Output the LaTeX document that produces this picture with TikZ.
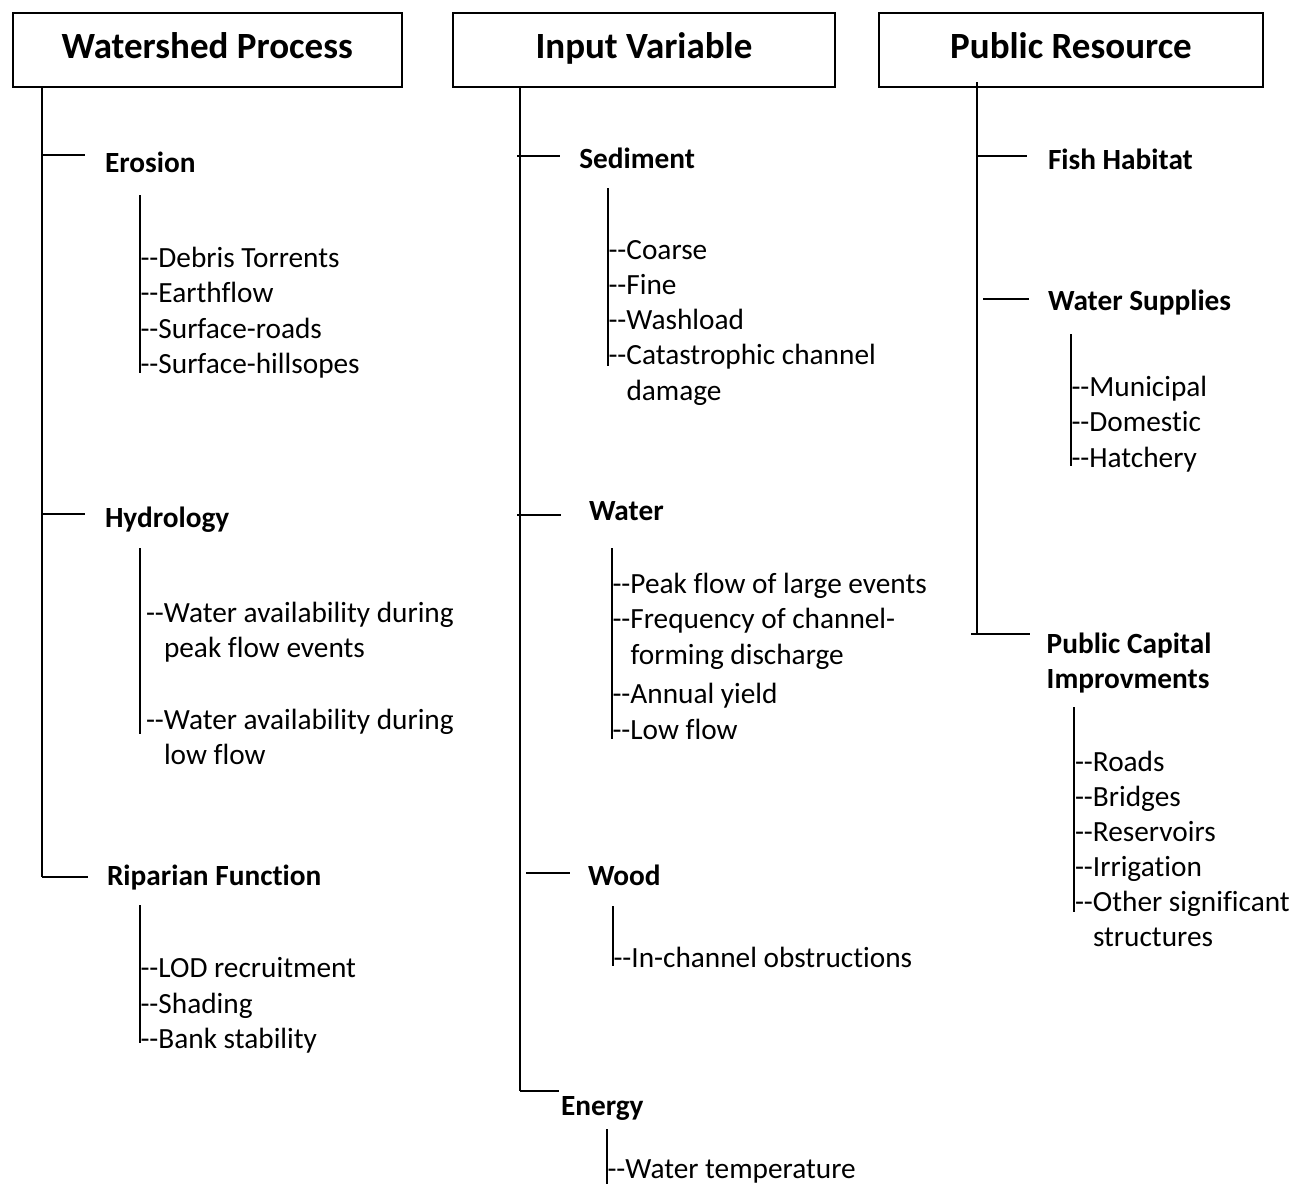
\documentclass[tikz,border=0pt]{standalone}
\usepackage{fontspec}
\setmainfont{Carlito}[Ligatures=NoCommon]
% two plain hyphens, kept apart so they never join into a dash
\newcommand{\twodash}{-\kern0pt-}
\begin{document}
\begin{tikzpicture}[x=1pt,y=-1pt,
  hdr/.style={draw, line width=2pt, inner sep=0pt, outer sep=0pt, anchor=base,
    text height=45.6pt, text depth=29pt,
    font=\fontsize{37}{44}\selectfont\bfseries},
  item/.style={anchor=base west, inner sep=0pt, outer sep=0pt,
    font=\fontsize{29.3}{35.6}\selectfont},
  lbl/.style={item, font=\fontsize{29.3}{35.6}\selectfont\bfseries},
  trunk/.style={line width=2pt},
  twig/.style={line width=1.6pt}]
\useasboundingbox (0,0) rectangle (1295,1184);

% ---------------- headings ----------------
\node[hdr, minimum width=389pt] (wp) at (207.2,58.3) {Watershed Process};
\node[hdr, minimum width=382.3pt] (iv) at (643.9,58.3) {Input Variable};
\node[hdr, minimum width=384pt] (pr) at (1071,58.3) {Public Resource};

% ---------------- Watershed Process ----------------
\coordinate (a1) at (42,155);  \coordinate (a1e) at (85,155);
\coordinate (a2) at (42,514);  \coordinate (a2e) at (85,514);
\coordinate (a3) at (42,877);  \coordinate (a3e) at (88,877);
\draw[trunk] (wp.south -| a3) -- (a3);
\draw[trunk] (a1) -- (a1e);
\draw[trunk] (a2) -- (a2e);
\draw[trunk] (a3) -- (a3e);

\node[lbl] (ero) at (105,172) {Erosion};
\coordinate (ea) at (140,195); \coordinate (eb) at (140,373);
\draw[twig] (ea) -- (eb);
\node[item] (e1) at (140.5,267) {\twodash Debris Torrents};
\node[item] (e2) at (140.5,302.5) {\twodash Earthflow};
\node[item] (e3) at (140.5,338) {\twodash Surface-roads};
\node[item] (e4) at (140.5,373.5) {\twodash Surface-hillsopes};

\node[lbl] (hyd) at (105,527) {Hydrology};
\coordinate (ha) at (140,548); \coordinate (hb) at (140,734);
\draw[twig] (ha) -- (hb);
\node[item] (h1) at (146,622) {\twodash Water availability during};
\node[item] (h1b) at (164,657.6) {peak flow events};
\node[item] (h2) at (146,729) {\twodash Water availability during};
\node[item] (h2b) at (164,764.6) {low flow};

\node[lbl] (rip) at (107,885) {Riparian Function};
\coordinate (ra) at (140,905); \coordinate (rb) at (140,1043);
\draw[twig] (ra) -- (rb);
\node[item] (r1) at (140.5,977.7) {\twodash LOD recruitment};
\node[item] (r2) at (140.5,1013.3) {\twodash Shading};
\node[item] (r3) at (140.5,1048.9) {\twodash Bank stability};

% ---------------- Input Variable ----------------
\coordinate (b1) at (519.5,156);  \coordinate (b1s) at (517,156);  \coordinate (b1e) at (560,156);
\coordinate (b2) at (519.5,515);  \coordinate (b2s) at (517,515);  \coordinate (b2e) at (561,515);
\coordinate (b3) at (519.5,873);  \coordinate (b3s) at (526,873);  \coordinate (b3e) at (570,873);
\coordinate (b4) at (519.5,1091); \coordinate (b4e) at (559,1091);
\draw[trunk] (iv.south -| b4) -- (b4);
\draw[trunk] (b1s) -- (b1e);
\draw[trunk] (b2s) -- (b2e);
\draw[trunk] (b3s) -- (b3e);
\draw[trunk] (b4) -- (b4e);

\node[lbl] (sed) at (579.3,168.3) {Sediment};
\coordinate (sa) at (608,188); \coordinate (sb) at (608,366);
\draw[twig] (sa) -- (sb);
\node[item] (s1) at (608.5,259) {\twodash Coarse};
\node[item] (s2) at (608.5,294) {\twodash Fine};
\node[item] (s3) at (608.5,329.5) {\twodash Washload};
\node[item] (s4) at (608.5,364.5) {\twodash Catastrophic channel};
\node[item] (s4b) at (626.5,400) {damage};

\node[lbl] (wat) at (589,520) {Water};
\coordinate (wa) at (612,548); \coordinate (wb) at (612,739);
\draw[twig] (wa) -- (wb);
\node[item] (w1) at (612.5,593) {\twodash Peak flow of large events};
\node[item] (w2) at (612.5,628.5) {\twodash Frequency of channel-};
\node[item] (w2b) at (630.5,664) {forming discharge};
\node[item] (w3) at (612.5,703) {\twodash Annual yield};
\node[item] (w4) at (612.5,739) {\twodash Low flow};

\node[lbl] (wood) at (588,885) {Wood};
\coordinate (da) at (613,906); \coordinate (db) at (613,966);
\draw[twig] (da) -- (db);
\node[item] (d1) at (613.5,967) {\twodash In-channel obstructions};

\node[lbl] (en) at (561,1115) {Energy};
\coordinate (na) at (607,1129); \coordinate (nb) at (607,1184);
\draw[twig] (na) -- (nb);
\node[item] (n1) at (607.5,1178) {\twodash Water temperature};

% ---------------- Public Resource ----------------
\coordinate (c0) at (977,82);
\coordinate (c1) at (977,156);  \coordinate (c1e) at (1027,156);
\coordinate (c2s) at (983,299); \coordinate (c2e) at (1029,299);
\coordinate (c3) at (977,634);  \coordinate (c3s) at (971,634); \coordinate (c3e) at (1030,634);
\draw[trunk] (c0) -- (c3);
\draw[trunk] (c1) -- (c1e);
\draw[trunk] (c2s) -- (c2e);
\draw[trunk] (c3s) -- (c3e);

\node[lbl] (fish) at (1048,169.3) {Fish Habitat};

\node[lbl] (ws) at (1048,310.7) {Water Supplies};
\coordinate (ma) at (1071,334); \coordinate (mb) at (1071,466);
\draw[twig] (ma) -- (mb);
\node[item] (m1) at (1071.5,396) {\twodash Municipal};
\node[item] (m2) at (1071.5,431.5) {\twodash Domestic};
\node[item] (m3) at (1071.5,467) {\twodash Hatchery};

\node[lbl] (pc) at (1046.7,653) {Public Capital};
\node[lbl] (pcb) at (1046.7,688) {Improvments};
\coordinate (pa) at (1074,707); \coordinate (pb) at (1074,912);
\draw[twig] (pa) -- (pb);
\node[item] (p1) at (1075,771.7) {\twodash Roads};
\node[item] (p2) at (1075,806.7) {\twodash Bridges};
\node[item] (p3) at (1075,841.7) {\twodash Reservoirs};
\node[item] (p4) at (1075,876.7) {\twodash Irrigation};
\node[item] (p5) at (1075,911.7) {\twodash Other significant};
\node[item] (p5b) at (1093,946.7) {structures};
\end{tikzpicture}
\end{document}
